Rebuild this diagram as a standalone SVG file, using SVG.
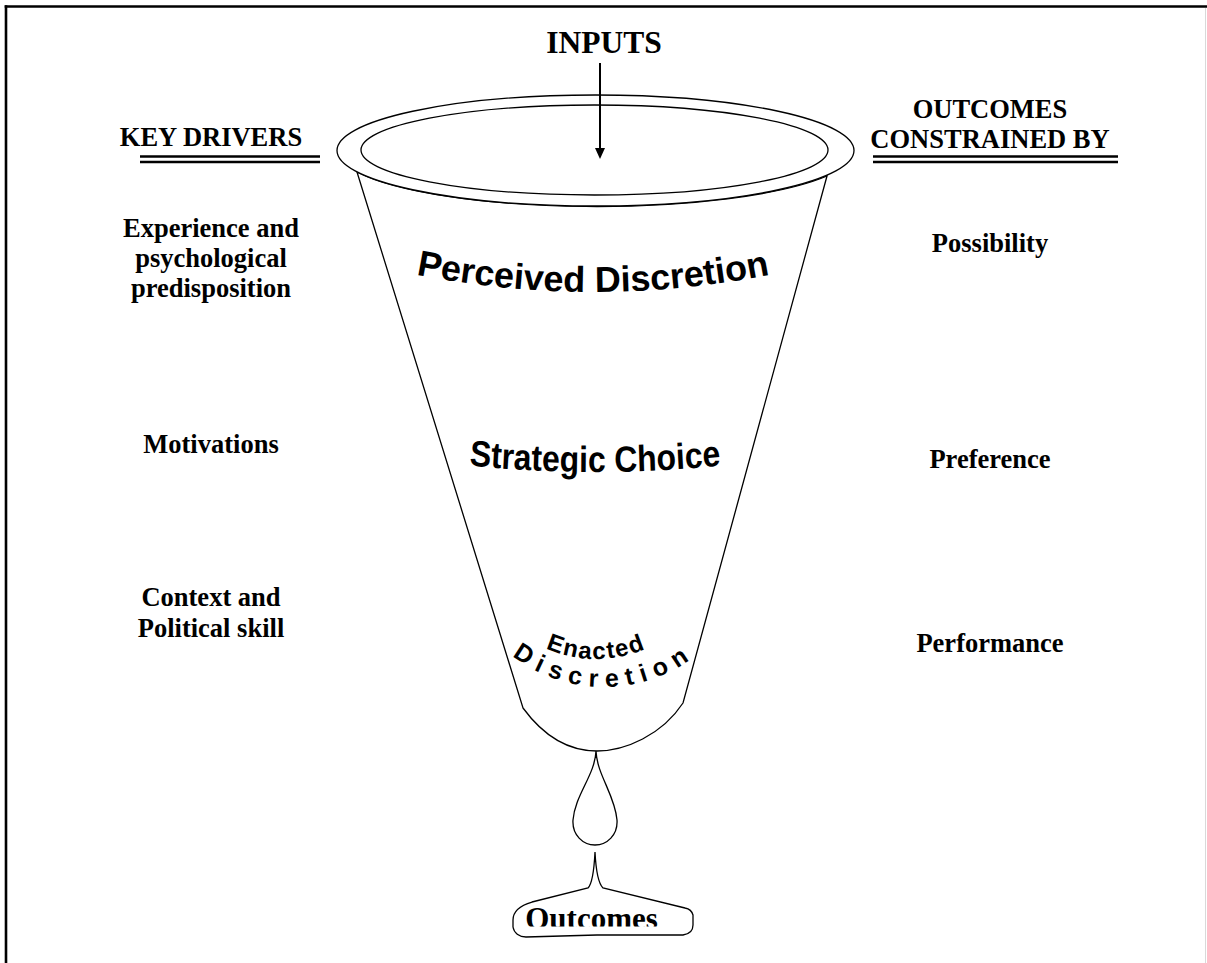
<svg xmlns="http://www.w3.org/2000/svg" width="1207" height="963" viewBox="0 0 1207 963">
<style>
.lbl{font-family:"Liberation Serif","Times New Roman",serif;font-weight:bold;font-size:26.5px;fill:#000;text-anchor:middle}
.wa{font-family:"Liberation Sans",Arial,sans-serif;font-weight:bold;fill:#000}
.shape{fill:#fff;stroke:#000;stroke-width:1.3}
.ul{stroke:#000;stroke-width:2.3}
.frame{stroke:#000;stroke-width:2.6}
</style>
<defs>
<marker id="ah" viewBox="0 0 11 10" markerUnits="userSpaceOnUse" markerWidth="11" markerHeight="10" refX="4" refY="5" orient="auto">
<path d="M0,0 L11,5 L0,10 z" fill="#000"/>
</marker>
<path id="pPerc" d="M403,272 Q593,312 783,272"/>
<path id="pStrat" d="M435,464 Q595,480 755,464"/>
<path id="pEnact" d="M488.6,597 A124,124 0 0 0 703.4,597"/>
<path id="pDisc" d="M474.1,612 A150,150 0 0 0 733.9,612"/>
<clipPath id="clipOut"><rect x="500" y="895" width="200" height="31.5"/></clipPath>
</defs>
<rect x="0" y="0" width="1207" height="963" fill="#fff"/>
<g id="frame">
<line class="frame" x1="4.7" y1="6.5" x2="1207" y2="6.5"/>
<line class="frame" x1="6" y1="5.2" x2="6" y2="963"/>
<line x1="1205.5" y1="8" x2="1205.5" y2="963" stroke="#d9d9d9" stroke-width="1"/>
</g>
<g id="funnel">
<path class="shape" d="M357,172 L523,708 C545,738 570,751 597,751 C625,751 662,735 683,703 L827,176 A258.5,55.5 0 0 1 357,172 Z"/>
<ellipse class="shape" cx="595.5" cy="150.5" rx="258.5" ry="55.5"/>
<ellipse class="shape" cx="594.5" cy="150" rx="233.5" ry="45"/>
</g>
<g id="drop">
<path class="shape" d="M596,751 C595,775 575,795 573,820 C572,835 583,845 595,845 C607,845 618,835 617,820 C615,795 597,775 596,751 Z"/>
</g>
<g id="outcomes">
<path class="shape" d="M595,852 C594,872 592,884 588,888 L532,902 C518,906 513,912 513,920 L513,927 C514,933 519,937 526,937 L597,935 L683,935 C690,934 693,930 693,925 L693,915 C692,911 690,909 685,908 L603,888 C599,884 596,872 595,852 Z"/>
<text class="lbl" x="591.5" y="929" style="font-size:31px" clip-path="url(#clipOut)">Outcomes</text>
</g>
<g id="connectors">
<line x1="600" y1="63" x2="600" y2="152" stroke="#000" stroke-width="2" marker-end="url(#ah)"/>
</g>
<g id="inputs">
<text class="lbl" x="604" y="53" style="font-size:31.5px">INPUTS</text>
</g>
<g id="funnel-labels">
<text class="wa" font-size="36" text-anchor="middle"><textPath href="#pPerc" startOffset="50%">Perceived Discretion</textPath></text>
<g transform="translate(595,0) scale(0.875,1) translate(-595,0)">
<text class="wa" font-size="36.5" text-anchor="middle"><textPath href="#pStrat" startOffset="50%">Strategic Choice</textPath></text>
</g>
<text class="wa" text-anchor="middle"><textPath href="#pEnact" startOffset="50%" font-size="24" letter-spacing="1.5">Enacted</textPath><textPath href="#pDisc" startOffset="50%" font-size="25" letter-spacing="7.5">Discretion</textPath></text>
</g>
<g id="key-drivers">
<text class="lbl" x="211" y="146">KEY DRIVERS</text>
<line class="ul" x1="140" y1="156.5" x2="320" y2="156.5"/>
<line class="ul" x1="140" y1="162" x2="320" y2="162"/>
</g>
<g id="driver-experience">
<text class="lbl" x="211" y="237">Experience and</text>
<text class="lbl" x="211" y="267">psychological</text>
<text class="lbl" x="211" y="297">predisposition</text>
</g>
<g id="driver-motivations">
<text class="lbl" x="211" y="453">Motivations</text>
</g>
<g id="driver-context">
<text class="lbl" x="211" y="606">Context and</text>
<text class="lbl" x="211" y="637">Political skill</text>
</g>
<g id="outcomes-constrained">
<text class="lbl" x="990" y="118">OUTCOMES</text>
<text class="lbl" x="990" y="148">CONSTRAINED BY</text>
<line class="ul" x1="873" y1="156.5" x2="1118" y2="156.5"/>
<line class="ul" x1="873" y1="162" x2="1118" y2="162"/>
</g>
<g id="constraint-possibility">
<text class="lbl" x="990" y="252">Possibility</text>
</g>
<g id="constraint-preference">
<text class="lbl" x="990" y="468">Preference</text>
</g>
<g id="constraint-performance">
<text class="lbl" x="990" y="652">Performance</text>
</g>
</svg>
